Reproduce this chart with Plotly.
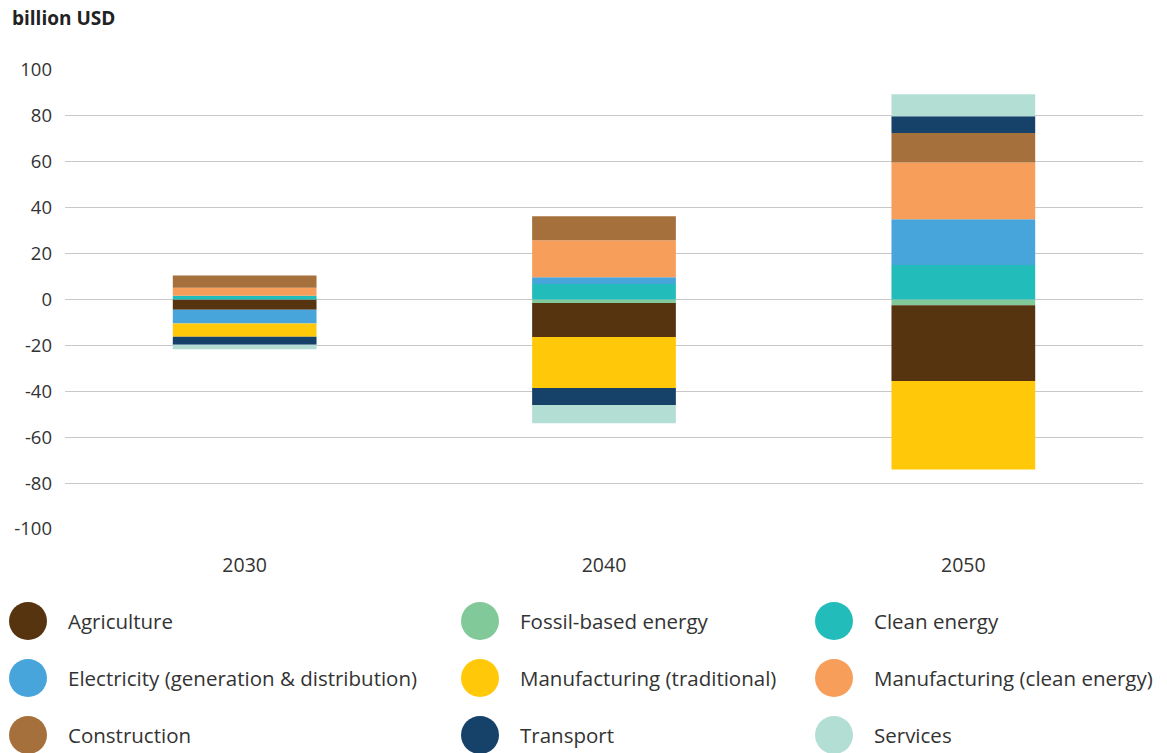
import plotly.graph_objects as go

years = ["2030", "2040", "2050"]
sectors = ["Fossil-based energy", "Agriculture", "Clean energy",
           "Electricity (generation & distribution)", "Manufacturing (traditional)",
           "Manufacturing (clean energy)", "Construction", "Transport", "Services"]
fossil = [0, -1.5, -2.5]
agriculture = [-4.5, -14.8, -33.0]
clean = [1.6, 6.7, 15.0]
electricity = [-6.0, 3.0, 20.0]
manuf_trad = [-5.7, -22.3, -38.6]
manuf_clean = [3.5, 16.1, 24.7]
construction = [5.4, 10.5, 12.8]
transport = [-3.5, -7.4, 7.3]
services = [-2.0, -7.9, 9.6]
colors = ["#82c99a", "#56340f", "#22bdbb", "#48a5db", "#ffc90a",
          "#f79e5b", "#a6703c", "#16426a", "#b3ded4"]
values = [fossil, agriculture, clean, electricity, manuf_trad,
          manuf_clean, construction, transport, services]
legend_order = ["Agriculture", "Fossil-based energy", "Clean energy",
                "Electricity (generation & distribution)", "Manufacturing (traditional)",
                "Manufacturing (clean energy)", "Construction", "Transport", "Services"]
y_ticks = [-100, -80, -60, -40, -20, 0, 20, 40, 60, 80, 100]
y_ticktext = ["-100", "-80", "-60", "-40", "-20", "0", "20", "40", "60", "80", "100"]

FONT = "'Open Sans', sans-serif"
fig = go.Figure()
for name, vals, col in zip(sectors, values, colors):
    fig.add_trace(go.Bar(x=years, y=vals, name=name, marker=dict(color=col, line=dict(width=0)),
                         showlegend=False))

fig.update_layout(
    barmode="relative", bargap=0.6,
    width=1167, height=753,
    margin=dict(l=65, r=24, t=70, b=224),
    plot_bgcolor="white", paper_bgcolor="white",
    font=dict(family=FONT, color="#333333", size=18),
    xaxis=dict(showgrid=False, showline=False, ticks="", ticklabelstandoff=22,
               tickfont=dict(size=19.5, color="#333333")),
    yaxis=dict(range=[-100, 100], tickvals=y_ticks, ticktext=y_ticktext, showgrid=True,
               gridcolor="#c8c8c8", gridwidth=1, zeroline=False, ticks="", ticklabelstandoff=12,
               tickfont=dict(size=18.5, color="#333333")),
)
fig.add_annotation(text="<b>billion USD</b>", xref="paper", yref="paper", x=0, y=1,
                   xshift=-55, yshift=52, xanchor="left", yanchor="middle", showarrow=False,
                   font=dict(size=19, color="#222222", family=FONT))

# manual legend (3 columns x 3 rows)
col_x = [28, 480, 834]
row_y = [621, 678, 735]
W, H = 1167, 753
pl, pr, pt, pb = 65, 24, 70, 224
pw, ph = W - pl - pr, H - pt - pb
cmap = dict(zip(sectors, colors))
for i, name in enumerate(legend_order):
    r, c = divmod(i, 3)
    px, py = col_x[c], row_y[r]
    xp = (px - pl) / pw
    yp = 1 - (py - pt) / ph
    fig.add_shape(type="circle", xref="paper", yref="paper", xsizemode="pixel", ysizemode="pixel",
                  xanchor=xp, yanchor=yp, x0=-19, x1=19, y0=-19, y1=19,
                  fillcolor=cmap[name], line=dict(width=0))
    fig.add_annotation(text=name, xref="paper", yref="paper", x=xp, y=yp, xshift=38,
                       xanchor="left", yanchor="middle", showarrow=False,
                       font=dict(size=20.5, color="#333333", family=FONT))

fig.write_html("out.html", config={"displayModeBar": False},
               post_script="document.body.style.margin='0';document.body.style.overflow='hidden';")
